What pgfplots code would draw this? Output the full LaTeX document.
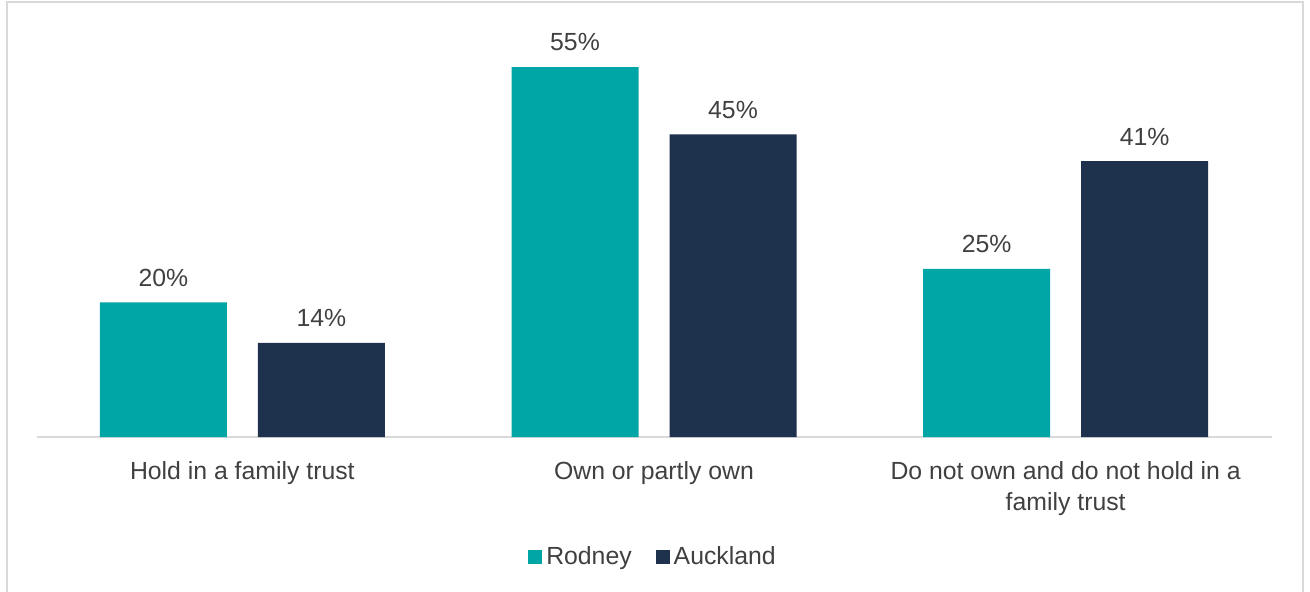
\documentclass[border=0pt]{standalone}
\usepackage{pgfplots}
\pgfplotsset{compat=1.18}
\usepackage{fontspec}
\setmainfont{Liberation Sans}
\definecolor{rodney}{HTML}{00A6A6}
\definecolor{auckland}{HTML}{1E314D}
\definecolor{txt}{HTML}{404040}
\definecolor{framegray}{HTML}{D9D9D9}
\begin{document}
\begin{tikzpicture}[x=0.5pt,y=0.5pt]
\path[use as bounding box] (0,0) rectangle (1310,591);
\draw[framegray, line width=0.9pt] (7,-20) rectangle (1303,589);
\begin{axis}[
    at={(18.25pt,77pt)}, anchor=south west,
    scale only axis, width=617.5pt, height=201.8pt,
    ybar=15.5pt, bar width=63.5pt,
    xmin=-0.5, xmax=2.5, ymin=0, ymax=60,
    axis y line=none, axis x line*=bottom,
    x axis line style={framegray, line width=0.8pt, -},
    xtick={0,1,2}, major tick length=0pt,
    /pgf/number format/assume math mode=true,
    xticklabels={Hold in a family trust, Own or partly own, {Do not own and do not hold in a\\family trust}},
    xticklabel style={align=center, anchor=north, font=\fontsize{12.4}{15.5}\selectfont, color=txt, yshift=-8.5pt},
    nodes near coords={\pgfmathprintnumber{\pgfplotspointmeta}\%},
    nodes near coords style={font=\fontsize{12.4}{14}\selectfont, color=txt, yshift=4.5pt},
    legend style={at={(0.5,-0.297)}, anchor=center, draw=none, legend columns=2,
        font=\fontsize{12.4}{14}\selectfont, text=txt,
        /tikz/every even column/.append style={column sep=10pt}},
    legend image code/.code={\fill[#1] (0pt,-3.5pt) rectangle (7pt,3.5pt);},
]
\addplot[fill=rodney, draw=none] coordinates {(0,20) (1,55) (2,25)};
\addplot[fill=auckland, draw=none] coordinates {(0,14) (1,45) (2,41)};
\legend{Rodney, Auckland}
\end{axis}
\end{tikzpicture}
\end{document}
